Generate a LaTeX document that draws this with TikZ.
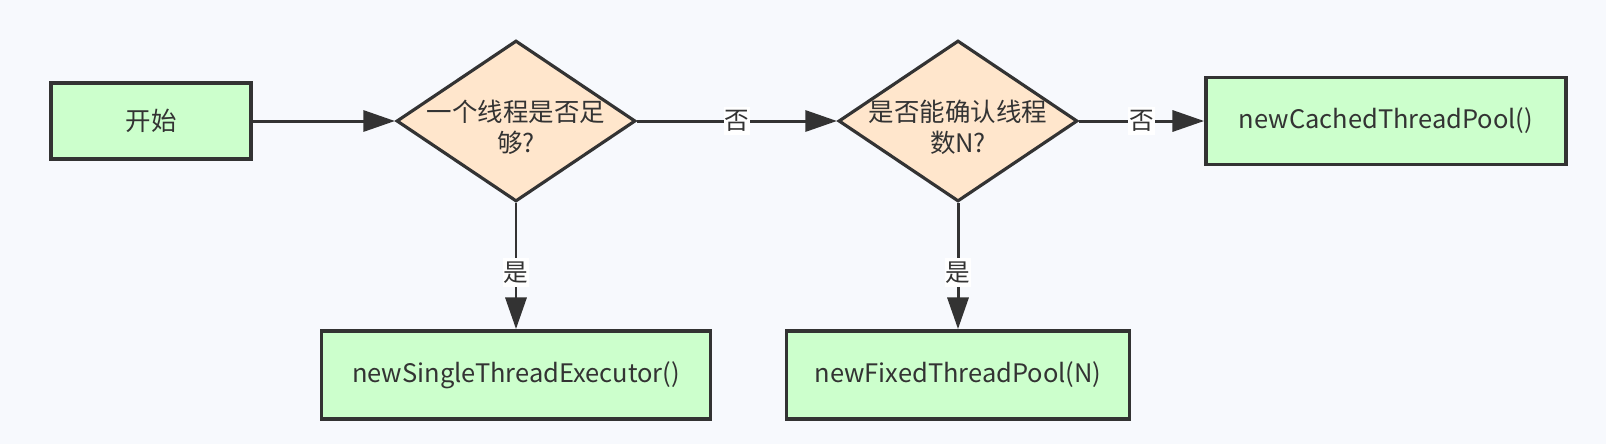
\documentclass[tikz,border=0pt]{standalone}
\usepackage{fontspec}
\setmainfont{Noto Sans CJK SC}
\usetikzlibrary{shapes.geometric,arrows.meta}
\definecolor{bgcol}{HTML}{F7F9FD}
\definecolor{linecol}{HTML}{333333}
\definecolor{boxfill}{HTML}{CCFFCC}
\definecolor{askfill}{HTML}{FFE6CC}
\begin{document}
\begin{tikzpicture}[x=0.02cm,y=-0.02cm,
  box/.style={draw=linecol,fill=boxfill,line width=2.2pt,inner sep=0pt,text=linecol,font=\fontsize{14.5}{18}\selectfont},
  ask/.style={diamond,draw=linecol,fill=askfill,line width=1.8pt,inner sep=0pt,minimum width=4.78cm,minimum height=3.22cm},
  asktext/.style={align=center,text=linecol,font=\fontsize{14.5}{17.6}\selectfont},
  flow/.style={draw=linecol,line width=1.7pt,-{Triangle[length=18pt,width=12pt]}},
  tag/.style={fill=white,inner xsep=0.5pt,inner ysep=2pt,text=linecol,font=\fontsize{14}{16}\selectfont}]
\fill[bgcol] (0,0) rectangle (1606,444);
\node[box,minimum width=4cm,minimum height=1.52cm] (start) at (151,121) {开始};
\node[ask] (q1) at (516,121) {};
\node[asktext] (q1text) at (516,127) {一个线程是否足\\够?};
\node[ask] (q2) at (958,121) {};
\node[asktext] (q2text) at (958,127) {是否能确认线程\\数N?};
\node[box,minimum width=7.2cm,minimum height=1.74cm] (cached) at (1386,121) {newCachedThreadPool()};
\node[box,minimum width=7.78cm,minimum height=1.76cm] (single) at (516,375) {newSingleThreadExecutor()};
\node[box,minimum width=6.86cm,minimum height=1.76cm] (fixed) at (958,375) {newFixedThreadPool(N)};
\draw[flow] (start) -- (q1);
\draw[flow] (q1) -- node[tag] {否} (q2);
\draw[flow] (q2) -- node[tag] {否} (cached);
\draw[flow] (q1) -- node[tag,pos=0.55] {是} (single);
\draw[flow] (q2) -- node[tag,pos=0.55] {是} (fixed);
\end{tikzpicture}
\end{document}
